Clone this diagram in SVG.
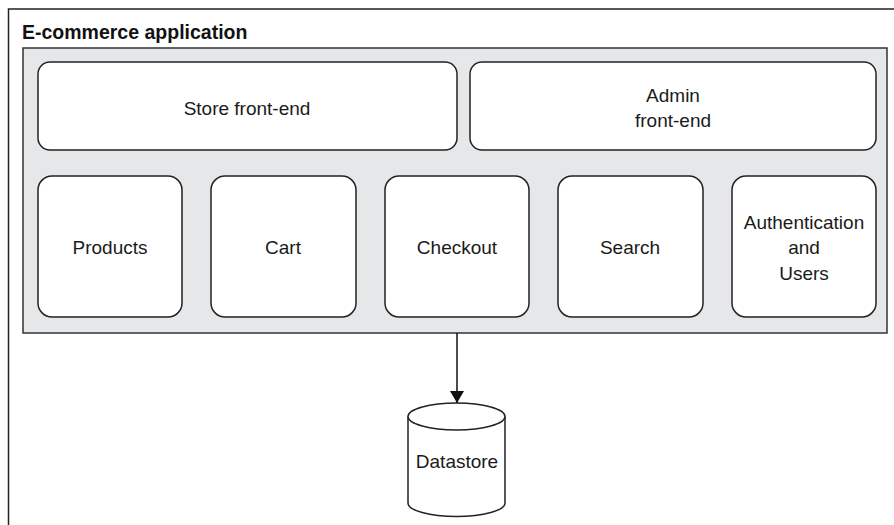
<svg xmlns="http://www.w3.org/2000/svg" width="894" height="525" viewBox="0 0 894 525">
<defs>
<style>
.lbl{font-family:"Liberation Sans",Arial,sans-serif;font-size:19px;fill:#1a1a1a;text-anchor:middle}
.box{fill:#fff;stroke:#222;stroke-width:1.5}
</style>
<marker id="arr" viewBox="0 0 12 14" refX="12" refY="7" markerWidth="12" markerHeight="14" markerUnits="userSpaceOnUse" orient="auto">
<path d="M0,0 L12,7 L0,14 Z" fill="#111"/>
</marker>
</defs>
<rect width="894" height="525" fill="#fff"/>
<g id="app">
<rect x="8.5" y="9" width="900" height="530" fill="#fff" stroke="#222" stroke-width="1.5"/>
<text x="22" y="38.5" style="font-family:'Liberation Sans',Arial,sans-serif;font-size:19.5px;font-weight:bold;fill:#111">E-commerce application</text>
<rect x="23" y="48" width="864" height="285" fill="#e6e7e8" stroke="#333" stroke-width="1.5"/>
</g>
<g id="store">
<rect class="box" x="38" y="62" width="419" height="88" rx="12"/>
<text class="lbl" x="247" y="114.5">Store front-end</text>
</g>
<g id="admin">
<rect class="box" x="470" y="62" width="406" height="88" rx="12"/>
<text class="lbl" x="673" y="102">Admin</text>
<text class="lbl" x="673" y="127">front-end</text>
</g>
<g id="products">
<rect class="box" x="38" y="176" width="144" height="141" rx="14"/>
<text class="lbl" x="110" y="253.5">Products</text>
</g>
<g id="cart">
<rect class="box" x="211" y="176" width="145" height="141" rx="14"/>
<text class="lbl" x="283" y="253.5">Cart</text>
</g>
<g id="checkout">
<rect class="box" x="385" y="176" width="144" height="141" rx="14"/>
<text class="lbl" x="457" y="253.5">Checkout</text>
</g>
<g id="search">
<rect class="box" x="558" y="176" width="145" height="141" rx="14"/>
<text class="lbl" x="630" y="253.5">Search</text>
</g>
<g id="auth">
<rect class="box" x="732" y="176" width="144" height="141" rx="14"/>
<text class="lbl" x="804" y="229">Authentication</text>
<text class="lbl" x="804" y="254">and</text>
<text class="lbl" x="804" y="279.5">Users</text>
</g>
<g id="datastore">
<path d="M408,416.5 L408,503 A48.5,13.5 0 0 0 505,503 L505,416.5" fill="#fff" stroke="#222" stroke-width="1.5"/>
<ellipse cx="456.5" cy="416.5" rx="48.5" ry="13.5" fill="#fff" stroke="#222" stroke-width="1.5"/>
<text class="lbl" x="457" y="467.5">Datastore</text>
</g>
<g id="connectors">
<line x1="457" y1="333" x2="457" y2="403" stroke="#111" stroke-width="1.5" marker-end="url(#arr)"/>
</g>
</svg>
